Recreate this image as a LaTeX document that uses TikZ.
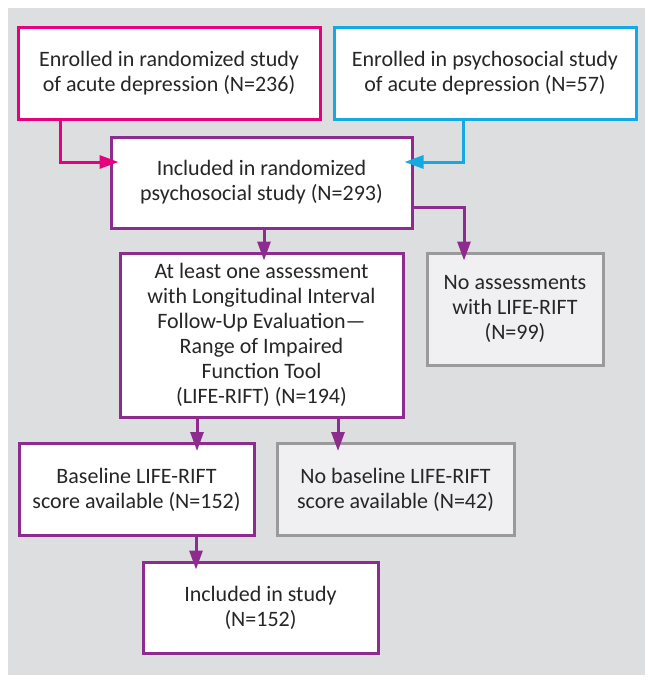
\documentclass[tikz,border=0pt]{standalone}
\usepackage{fontspec}
\setmainfont{Carlito}
\usetikzlibrary{arrows.meta}
\definecolor{bggray}{HTML}{DDDEE0}
\definecolor{boxgray}{HTML}{F0F0F2}
\definecolor{linegray}{HTML}{9A9A9A}
\definecolor{rmag}{HTML}{E5007D}
\definecolor{pcyan}{HTML}{14A9E3}
\definecolor{spurple}{HTML}{8E2B8F}
\begin{document}
\begin{tikzpicture}[x=1pt, y=-1pt,
        every node/.style={draw, line width=3pt, fill=white, align=center, inner sep=0pt,
            font=\fontsize{22}{25}\selectfont, text=black!85},
        mainbox/.style={draw=spurple},
        outbox/.style={draw=linegray, fill=boxgray},
        flow/.style={line width=3pt, -{Triangle[length=19pt, width=13pt]}, shorten >=-9pt}
    ]
        % Nền
        \useasboundingbox (0,0) rectangle (654,685);
        \fill[bggray] (8,8) rectangle (645,675);

        % Các hộp
        \node [draw=rmag, minimum width=302pt, minimum height=91pt] (rand) at (169,73.5)
            {Enrolled in randomized study\\of acute depression (N=236)};
        \node [draw=pcyan, minimum width=302pt, minimum height=91pt] (psych) at (485,73.5)
            {Enrolled in psychosocial study\\of acute depression (N=57)};
        \node [mainbox, minimum width=301pt, minimum height=91pt] (incl) at (261.5,182.5)
            {Included in randomized\\psychosocial study (N=293)};
        \node [mainbox, minimum width=283pt, minimum height=164pt] (life) at (261.5,335)
            {At least one assessment\\with Longitudinal Interval\\Follow-Up Evaluation---\\Range of Impaired\\Function Tool\\(LIFE-RIFT) (N=194)};
        \node [outbox, minimum width=176pt, minimum height=112pt] (noass) at (515,309)
            {No assessments\\with LIFE-RIFT\\(N=99)};
        \node [mainbox, minimum width=235pt, minimum height=92pt] (base) at (136.5,489.5)
            {Baseline LIFE-RIFT\\score available (N=152)};
        \node [outbox, minimum width=237pt, minimum height=92pt] (nobase) at (395.5,489.5)
            {No baseline LIFE-RIFT\\score available (N=42)};
        \node [mainbox, minimum width=235pt, minimum height=91pt] (study) at (260.5,607.5)
            {Included in study\\(N=152)};

        % Các mũi tên
        \draw[flow, rmag] (rand.south -| 60,0) |- (incl.west |- 0,162);
        \draw[flow, pcyan] (psych.south -| 463,0) |- (incl.east |- 0,162);
        \draw[flow, spurple] (incl.south -| 264,0) -- (life.north -| 264,0);
        \draw[flow, spurple] (incl.east |- 0,207) -| (noass.north -| 464,0);
        \draw[flow, spurple] (life.south -| 197,0) -- (base.north -| 197,0);
        \draw[flow, spurple] (life.south -| 338,0) -- (nobase.north -| 338,0);
        \draw[flow, spurple] (base.south -| 196,0) -- (study.north -| 196,0);
    \end{tikzpicture}
\end{document}
